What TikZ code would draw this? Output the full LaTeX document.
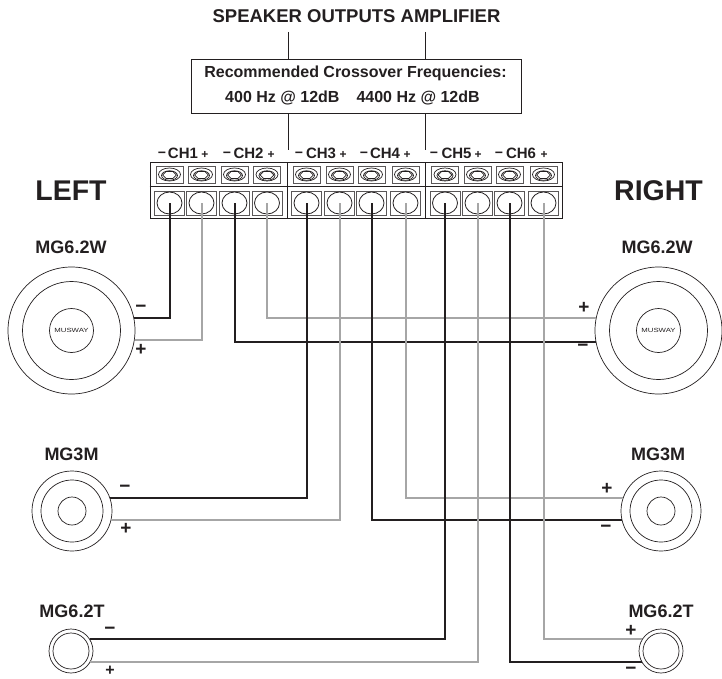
\documentclass[tikz,border=0pt]{standalone}
\usepackage{graphicx}
\usepackage{fontspec}
\setmainfont{Liberation Sans}
\definecolor{wiregrey}{HTML}{A6A6A6}
\definecolor{ink}{HTML}{231F20}
\tikzset{
  lbl/.style={font=\bfseries\fontsize{#1}{#1}\selectfont,text=ink,inner sep=0pt},
  blockbox/.style={draw=ink,line width=1pt,minimum width=137.5pt,minimum height=55pt,inner sep=0pt},
  smallsq/.style={draw=ink!75,line width=0.9pt,minimum width=27pt,minimum height=17pt,inner sep=0pt},
  bigsq/.style={draw=ink!75,line width=0.9pt,minimum width=30pt,minimum height=24pt,inner sep=0pt},
  hole/.style={draw=ink,line width=0.8pt,ellipse,minimum width=25pt,minimum height=22pt,inner sep=0pt},
  ring/.style={draw=ink,line width=0.7pt,circle,inner sep=0pt,minimum size=#1},
  blk/.style={draw=ink,line width=2pt},
  gry/.style={draw=wiregrey,line width=2pt},
  thin/.style={draw=ink,line width=0.9pt},
}
\usetikzlibrary{shapes.geometric}
\begin{document}
\begin{tikzpicture}[x=1pt,y=-1pt]
\useasboundingbox (0,0) rectangle (722,679);
% title and crossover
\node[lbl=18.5] (title) at (356.5,16) {SPEAKER OUTPUTS AMPLIFIER};
\node[thin,minimum width=330pt,minimum height=54pt,inner sep=0pt] (xo) at (356,86) {};
\node[lbl=16] (xo1) at (355.5,73) {Recommended Crossover Frequencies:};
\node[lbl=16] (xo2) at (352.5,98) {400 Hz @ 12dB\hspace{17pt}4400 Hz @ 12dB};
\coordinate (ta) at (288,32);
\coordinate (tb) at (425,32);
\coordinate (ua) at (288,150);
\coordinate (ub) at (425,150);
\draw[thin] (ta) -- (ta |- xo.north);
\draw[thin] (tb) -- (tb |- xo.north);
\draw[thin] (ua |- xo.south) -- (ua);
\draw[thin] (ub |- xo.south) -- (ub);
% terminal blocks
\foreach \n/\cx in {1/218.75,2/356.25,3/493.75}{
  \node[blockbox] (block\n) at (\cx,190.5) {};
}
\draw[line width=1pt,draw=ink] (block1.west |- 0,186) -- (block3.east |- 0,186);
\foreach \n/\x in {1/169.5,2/201.5,3/234.5,4/267,5/306.5,6/339.5,7/371.5,8/405.5,9/445,10/477.5,11/509.5,12/543.5}{
  \node[smallsq] (ts\n) at (\x,174.5) {};
  \node[draw=ink,line width=0.7pt,ellipse,minimum width=22pt,minimum height=13pt,inner sep=0pt] at (\x,174.5) {};
  \node[draw=ink,line width=0.7pt,ellipse,minimum width=16pt,minimum height=9.5pt,inner sep=0pt] at (\x,175.5) {};
  \node[draw=ink,line width=0.7pt,regular polygon,regular polygon sides=6,xscale=1.25,yscale=0.72,minimum size=11pt,inner sep=0pt] at (\x,175) {};
  \node[bigsq] (tb\n) at (\x,203) {};
  \node[hole] (h\n) at (\x,203) {};
}
% channel labels
\foreach \t/\x/\m/\p in {CH1/183/162/205, CH2/248.5/227/271, CH3/321/299/343, CH4/385/364/407, CH5/456.5/434/478, CH6/521/499/544}{
  \node[lbl=15] at (\x,153) {\t};
  \node[lbl=14] at (\m,154.5) {\textminus};
  \node[lbl=12] at (\p,154.5) {+};
}
% side labels
\node[lbl=28.5] (left) at (71,191) {LEFT};
\node[lbl=28.5] (right) at (658.5,191) {RIGHT};
% woofers
\foreach \nm/\x/\lx in {wl/71.5/71, wr/658.5/657}{
  \node[lbl=18] at (\lx,247.5) {MG6.2W};
  \node[ring=127pt] (\nm) at (\x,330.5) {};
  \node[ring=98pt] at (\x,330.5) {};
  \node[ring=44pt,font=\fontsize{6}{6}\selectfont,text=ink] at (\x,330.5) {\scalebox{1.3}[1]{MUSWAY}};
}
% mids
\foreach \nm/\x/\lx in {ml/72/71.5, mr/661/658}{
  \node[lbl=18] at (\lx,454) {MG3M};
  \node[ring=80pt] (\nm) at (\x,511) {};
  \node[ring=62pt] at (\x,511) {};
  \node[ring=28pt] at (\x,511) {};
}
% tweeters
\foreach \nm/\x/\lx in {hl/71/72, hr/661/661}{
  \node[lbl=18] at (\lx,611) {MG6.2T};
  \node[ring=44pt] (\nm) at (\x,651) {};
  \node[ring=36pt] at (\x,651) {};
}
% wires
\draw[blk] (h1.center) |- (wl.11.3);
\draw[gry] (h2.center) |- (wl.-9.5);
\draw[gry] (h4.center) |- (wr.169);
\draw[blk] (h3.center) |- (wr.190);
\draw[blk] (h5.center) |- (ml.19);
\draw[gry] (h6.center) |- (ml.-13);
\draw[gry] (h8.center) |- (mr.161);
\draw[blk] (h7.center) |- (mr.193);
\draw[blk] (h9.center) |- (hl.32);
\draw[gry] (h10.center) |- (hl.-30);
\draw[gry] (h12.center) |- (hr.147);
\draw[blk] (h11.center) |- (hr.210);
% polarity
\foreach \s/\x/\y in {\textminus/141/309,+/141/350,+/584/308,\textminus/583/348,\textminus/125/489,+/126/529,+/607/489,\textminus/606/529,\textminus/110/631,+/631/631,\textminus/631/671}{
  \node[lbl=19] at (\x,\y) {\s};
}
\node[lbl=16] at (110,671) {+};
\end{tikzpicture}
\end{document}
